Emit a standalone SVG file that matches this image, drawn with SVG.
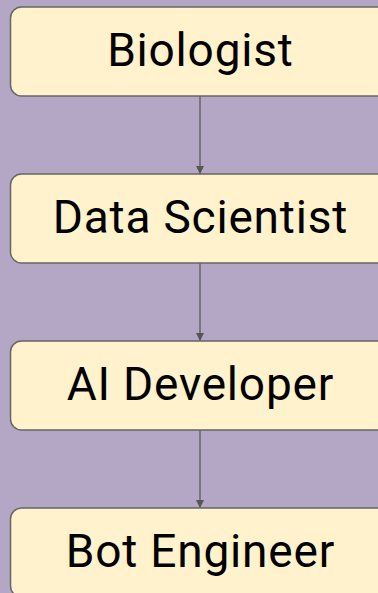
<svg xmlns="http://www.w3.org/2000/svg" width="378" height="593" viewBox="0 0 378 593">
  <style>
    .box { fill: #fff2cc; stroke: #666666; stroke-width: 1.5; }
    .label { font-family: Roboto, "Liberation Sans", sans-serif; font-size: 46px; letter-spacing: 0.8px; fill: #000000; text-anchor: middle; }
    .link { stroke: #666666; stroke-width: 1.5; fill: none; marker-end: url(#arrow); }
  </style>
  <defs>
    <marker id="arrow" viewBox="0 0 8 12" refX="8" refY="6" markerWidth="8" markerHeight="12" markerUnits="userSpaceOnUse" orient="auto">
      <path d="M0,2 L8,6 L0,10 Z" fill="#555555"/>
    </marker>
  </defs>
  <rect width="378" height="593" fill="#b4a7c6"/>
  <g id="connectors">
    <line class="link" x1="200" y1="96" x2="200" y2="174"/>
    <line class="link" x1="200" y1="263" x2="200" y2="341"/>
    <line class="link" x1="200" y1="430" x2="200" y2="508"/>
  </g>
  <g id="biologist">
    <rect class="box" x="10.5" y="7" width="380" height="89" rx="11"/>
    <text class="label" x="200.4" y="65.5">Biologist</text>
  </g>
  <g id="data-scientist">
    <rect class="box" x="10.5" y="174" width="380" height="89" rx="11"/>
    <text class="label" x="200.4" y="232.5">Data Scientist</text>
  </g>
  <g id="ai-developer">
    <rect class="box" x="10.5" y="341" width="380" height="89" rx="11"/>
    <text class="label" x="200.4" y="399.5">AI Developer</text>
  </g>
  <g id="bot-engineer">
    <rect class="box" x="10.5" y="508" width="380" height="89" rx="11"/>
    <text class="label" x="200.4" y="566.5">Bot Engineer</text>
  </g>
</svg>
